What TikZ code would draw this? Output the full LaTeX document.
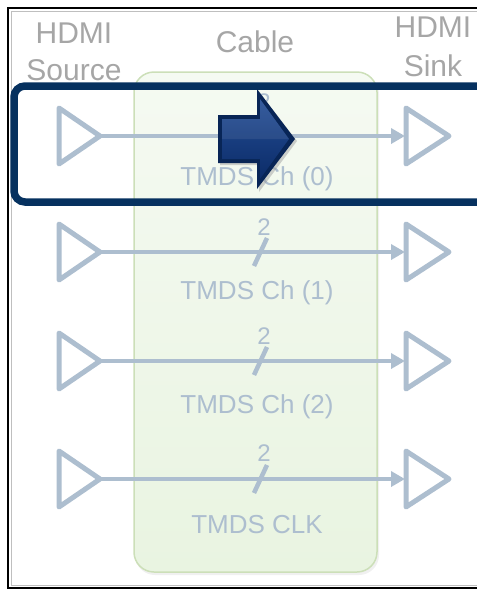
\documentclass[tikz,border=0pt]{standalone}
\usepackage{fontspec}
\setmainfont{Liberation Sans}
\usetikzlibrary{arrows.meta,shadows}
\definecolor{wire}{HTML}{ADBECF}
\definecolor{hdr}{HTML}{A6A6A6}
\definecolor{navy}{HTML}{06315F}
\definecolor{cabtop}{HTML}{F5FAF2}
\definecolor{cabbot}{HTML}{E9F4E1}
\definecolor{cabline}{HTML}{CCDFB8}
\definecolor{arrowdark}{HTML}{082556}
\definecolor{arrowtop}{RGB}{36,78,150}
\definecolor{arrowbot}{RGB}{12,44,104}
\tikzset{
  amp/.style={draw=wire, line width=5pt, line join=round, fill=white},
  wirelink/.style={draw=wire, line width=4.5pt, -{Triangle[length=14pt,width=15pt]}},
  busmark/.style={draw=wire, line width=4.5pt},
  chlabel/.style={text=wire, font=\fontsize{26}{30}\selectfont, anchor=base, inner sep=0pt},
  numlabel/.style={text=wire, font=\fontsize{24}{28}\selectfont, anchor=base, inner sep=0pt},
  hdrlabel/.style={text=hdr, font=\fontsize{30}{34}\selectfont, anchor=base, inner sep=0pt},
}
\begin{document}
\begin{tikzpicture}[x=1pt,y=-1pt]
\useasboundingbox (0,0) rectangle (477,590);
% outer frame
\draw[black, line width=2.5pt] (8,8) rectangle (520,588);
\draw[gray!50, line width=1pt] (11,11) rectangle (520,585);
% headers
\node[hdrlabel] (hs1) at (74,43) {HDMI};
\node[hdrlabel] (hs2) at (74,80) {Source};
\node[hdrlabel] (hc) at (255,52) {Cable};
\node[hdrlabel] (hk1) at (433,37) {HDMI};
\node[hdrlabel] (hk2) at (433,76) {Sink};
% cable box
\fill[black!6, rounded corners=20pt] (135,74) rectangle (379,575);
\draw[cabline, line width=1.5pt, top color=cabtop, bottom color=cabbot, rounded corners=20pt] (134,72) rectangle (377,572);
% rows
\foreach \r/\lab/\lb/\nb [count=\i from 0] in {136/TMDS Ch (0)/185/110, 252/TMDS Ch (1)/299/235, 361/TMDS Ch (2)/413/344, 479/TMDS CLK/533/461}{
  \draw[amp] (59,\r-28) -- (100,\r) -- (59,\r+28) -- cycle;
  \draw[amp] (406,\r-28) -- (449,\r) -- (406,\r+28) -- cycle;
  \coordinate (s\i) at (101,\r);
  \coordinate (k\i) at (405,\r);
  \draw[wirelink] (s\i) -- (k\i);
  \coordinate (ma\i) at (254,\r+14);
  \coordinate (mb\i) at (267,\r-14);
  \draw[busmark] (ma\i) -- (mb\i);
  \node[numlabel] (n\i) at (264,\nb) {2};
  \node[chlabel] (c\i) at (257,\lb) {\lab};
}
% highlight box
\draw[navy, line width=7.5pt, rounded corners=11pt] (14,86) rectangle (540,202);
% big arrow
\fill[black!40, opacity=0.45] (220,117) -- (259,117) -- (259,92) -- (297,141) -- (259,192) -- (259,165) -- (220,165) -- cycle;
\fill[arrowdark] (218,115) -- (257,115) -- (257,89) -- (295,139) -- (257,189) -- (257,163) -- (218,163) -- cycle;
\shade[top color=arrowtop, bottom color=arrowbot]
  (222,119) -- (260,119) -- (260,99) -- (289,139) -- (260,179) -- (260,159) -- (222,159) -- cycle;
\fill[white, opacity=0.08] (222,119) -- (260,119) -- (260,99) -- (289,139) -- (222,139) -- cycle;
\end{tikzpicture}
\end{document}
